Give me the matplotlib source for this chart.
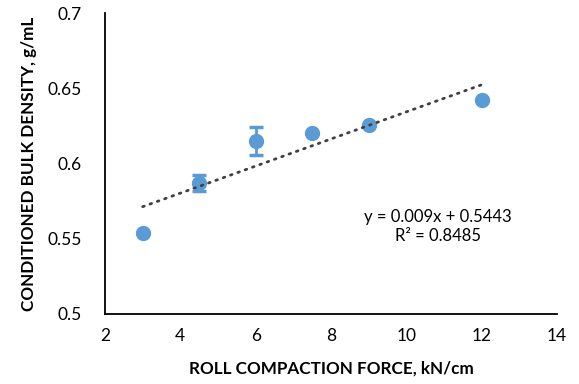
import matplotlib
matplotlib.use("Agg")
import matplotlib.pyplot as plt
import numpy as np

force = [3, 4.5, 6, 7.5, 9, 12]
density = [0.554, 0.587, 0.615, 0.6205, 0.6255, 0.642]
err = [0, 0.0055, 0.0095, 0, 0, 0]
x_ticks = [2, 4, 6, 8, 10, 12, 14]
y_ticks = [0.5, 0.55, 0.6, 0.65, 0.7]
y_tick_labels = ["0.5", "0.55", "0.6", "0.65", "0.7"]
slope, intercept = 0.009, 0.5443

plt.rcParams['font.family'] = ['Lato', 'DejaVu Sans']

fig = plt.figure(figsize=(5.79, 3.84), dpi=100)
ax = fig.add_axes([105/579, 1 - 314/384, (557-105)/579, (314-13)/384])

blue = '#5B9BD5'
xs = np.array([force[0], force[-1]])
ax.plot(xs, slope*xs + intercept, linestyle=(0, (0.6, 2.2)), color='#404040',
        linewidth=2.0, dash_capstyle='round', zorder=3)
ax.errorbar(force, density, yerr=err, fmt='o', color=blue, markersize=10,
            ecolor=blue, elinewidth=2, capsize=5, capthick=2.5, zorder=2,
            markeredgecolor=blue)

ax.set_xlim(2, 14)
ax.set_ylim(0.5, 0.7)
ax.set_xticks(x_ticks)
ax.set_yticks(y_ticks)
ax.set_yticklabels(y_tick_labels)
ax.tick_params(length=0, labelsize=12.5, colors='#000000')
ax.tick_params(axis='y', pad=17)
ax.tick_params(axis='x', pad=10)
for s in ['top', 'right']:
    ax.spines[s].set_visible(False)
for s in ['left', 'bottom']:
    ax.spines[s].set_linewidth(1.3)
    ax.spines[s].set_color('black')

ax.set_xlabel("ROLL COMPACTION FORCE, kN/cm", fontsize=12.3, fontweight='bold', labelpad=12)
ax.set_ylabel("CONDITIONED BULK DENSITY, g/mL", fontsize=12.3, fontweight='bold', labelpad=7)

ax.text(0.737, 0.29, "y = 0.009x + 0.5443\nR² = 0.8485", transform=ax.transAxes,
        ha='center', va='center', fontsize=12, linespacing=1.2)

fig.savefig("out.png", dpi=100)
